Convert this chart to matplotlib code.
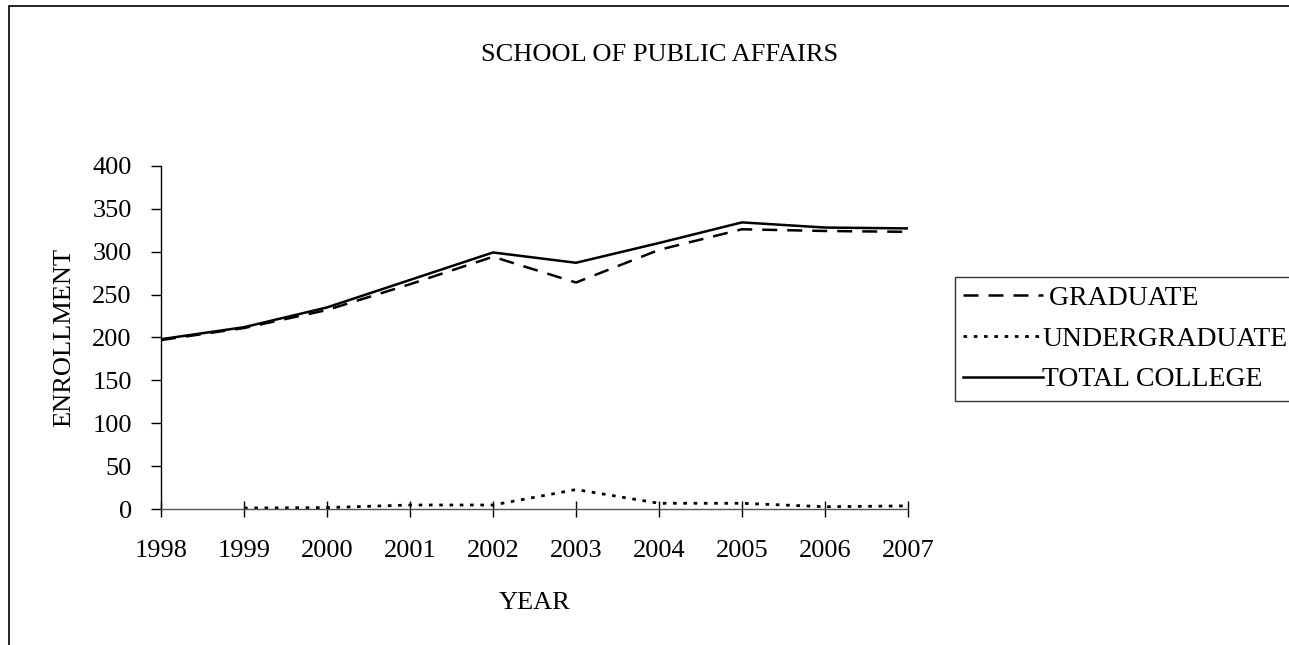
import matplotlib
matplotlib.use("Agg")
import matplotlib.pyplot as plt
from matplotlib.patches import Rectangle

plt.rcParams["font.family"] = ["Liberation Serif", "DejaVu Serif"]

# data
years = [1998, 1999, 2000, 2001, 2002, 2003, 2004, 2005, 2006, 2007]
graduate = [197, 211, 232, 262, 294, 264, 302, 326, 324, 323]
undergrad_years = [1999, 2000, 2001, 2002, 2003, 2004, 2005, 2006, 2007]
undergraduate = [1.5, 2, 5, 5, 23, 7, 7, 3, 4]
total = [198, 212, 235, 267, 299, 287, 310, 334, 328, 327]

W, H = 1289, 645
FS = 19
fig = plt.figure(figsize=(W / 100, H / 100), dpi=100)
fig.patch.set_facecolor("white")

# outer chart border (only left/top visible in the reference)
fig.patches.append(Rectangle((8.5 / W, -0.1), 1.2, 1.1 - 5.5 / H,
                             transform=fig.transFigure, fill=False,
                             edgecolor="black", linewidth=1.2))

ax = fig.add_axes([161 / W, 1 - 509.3 / H, (908 - 161) / W, (509.3 - 165.7) / H])

ax.plot(years, graduate, color="black", lw=1.8, dashes=(6, 4),
        label=" GRADUATE")
ax.plot(undergrad_years, undergraduate, color="black", lw=2.0, dashes=(1.3, 2.4),
        label="UNDERGRADUATE")
ax.plot(years, total, color="black", lw=1.8, label="TOTAL COLLEGE")

ax.set_xlim(1998, 2007)
ax.set_ylim(0, 400)
ax.set_xticks(years)
ax.set_yticks(range(0, 401, 50))

for side in ["top", "right"]:
    ax.spines[side].set_visible(False)
ax.spines["left"].set_linewidth(1.0)
ax.spines["bottom"].set_linewidth(1.0)
ax.spines["bottom"].set_color("#555555")

ax.tick_params(axis="y", direction="out", length=7, width=1.0, pad=14,
               labelsize=FS)
ax.tick_params(axis="x", direction="inout", length=12, width=1.0, pad=16,
               labelsize=FS)

ax.set_xlabel("YEAR", fontsize=FS, labelpad=22)
ax.set_ylabel("ENROLLMENT", fontsize=FS, labelpad=12)

fig.text(660 / W, 1 - 55 / H, "SCHOOL OF PUBLIC AFFAIRS", ha="center",
         va="center", fontsize=FS)

leg = fig.legend(loc="upper left", bbox_to_anchor=(955 / W, 1 - 277 / H),
                 fontsize=20, frameon=True, fancybox=False, handlelength=2.85,
                 handletextpad=0.0, borderpad=0.3, labelspacing=0.55,
                 borderaxespad=0)
leg.get_frame().set_edgecolor("black")
leg.get_frame().set_linewidth(1.0)

fig.savefig("out.png", dpi=100)
